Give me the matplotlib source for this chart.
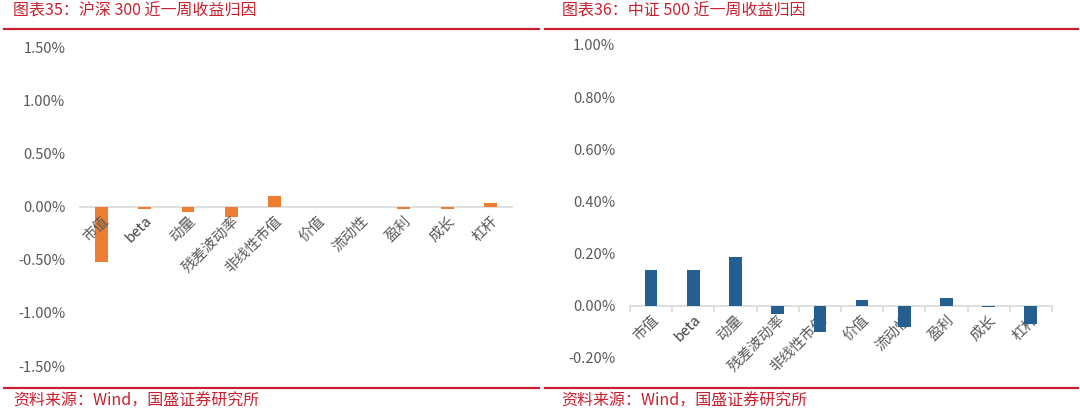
import matplotlib
matplotlib.use("Agg")
import matplotlib.pyplot as plt
from matplotlib.lines import Line2D
from matplotlib.ticker import FuncFormatter, FixedLocator

plt.rcParams["font.family"] = ["Noto Sans CJK SC", "DejaVu Sans"]

factors = ["市值", "beta", "动量", "残差波动率", "非线性市值", "价值", "流动性", "盈利", "成长", "杠杆"]

# 沪深300 近一周收益归因 (%)
hs300_ret = [-0.52, -0.02, -0.05, -0.10, 0.10, 0.0, 0.0, -0.02, -0.02, 0.035]
hs300_ticks = [1.5, 1.0, 0.5, 0.0, -0.5, -1.0, -1.5]

# 中证500 近一周收益归因 (%)
zz500_ret = [0.137, 0.137, 0.188, -0.032, -0.099, 0.022, -0.080, 0.031, -0.005, -0.070]
zz500_ticks = [1.0, 0.8, 0.6, 0.4, 0.2, 0.0, -0.2]

title_left = "图表35：沪深 300 近一周收益归因"
title_right = "图表36：中证 500 近一周收益归因"
source = "资料来源：Wind，国盛证券研究所"

red = "#C8202F"
gray_txt = "#595959"
grid_col = "#D9D9D9"

fig = plt.figure(figsize=(10.8, 4.13), dpi=100)

# header / footer decoration
for x0, x1, tx, title in [(0.004, 0.499, 0.012, title_left), (0.505, 0.998, 0.520, title_right)]:
    fig.add_artist(Line2D([x0, x1], [0.929, 0.929], color=red, lw=1.6))
    fig.add_artist(Line2D([x0, x1], [0.061, 0.061], color=red, lw=1.6))
    fig.text(tx, 0.972, title, color=red, fontsize=11.5, style="italic", va="center", ha="left")
    fig.text(tx, 0.028, source, color=red, fontsize=11.5, style="italic", va="center", ha="left")


def pct(v, pos, nd):
    return f"{v:.{nd}f}%"


def draw(ax, vals, ticks, color, nd, boundary_ticks, labels_on_top):
    x = list(range(len(factors)))
    ax.bar(x, vals, width=0.3, color=color, zorder=2)
    ax.set_xlim(-0.5, len(factors) - 0.5)
    ax.set_ylim(min(ticks), max(ticks))
    ax.set_yticks(ticks)
    ax.yaxis.set_major_formatter(FuncFormatter(lambda v, p: pct(v, p, nd)))
    ax.tick_params(axis="y", length=0, pad=10.5, labelsize=10.5, labelcolor=gray_txt)
    for s in ["left", "right", "top"]:
        ax.spines[s].set_visible(False)
    ax.spines["bottom"].set_position(("data", 0))
    ax.spines["bottom"].set_color(grid_col)
    ax.spines["bottom"].set_linewidth(1.2)
    ax.spines["bottom"].set_zorder(1.8)
    ax.set_xticks(x)
    ax.set_xticklabels(factors, rotation=45, ha="right", va="top", rotation_mode="anchor")
    ax.tick_params(axis="x", which="major", length=0, pad=5, labelsize=10.5, labelcolor=gray_txt)
    ax.xaxis.set_zorder(3 if labels_on_top else 1.5)
    if boundary_ticks:
        ax.xaxis.set_minor_locator(FixedLocator([i - 0.5 for i in range(len(factors) + 1)]))
        ax.tick_params(axis="x", which="minor", length=4, width=1.2, color=grid_col, direction="out")
    for lab in ax.get_xticklabels():
        if lab.get_text() == "beta":
            lab.set_color("#404040")


ax1 = fig.add_axes([0.0741, 0.1138, 0.3999, 0.772])
draw(ax1, hs300_ret, hs300_ticks, "#ED7D31", 2, False, True)

ax2 = fig.add_axes([0.5833, 0.1332, 0.3907, 0.7579])
draw(ax2, zz500_ret, zz500_ticks, "#255E91", 2, True, False)

fig.savefig("out.png", dpi=100)
